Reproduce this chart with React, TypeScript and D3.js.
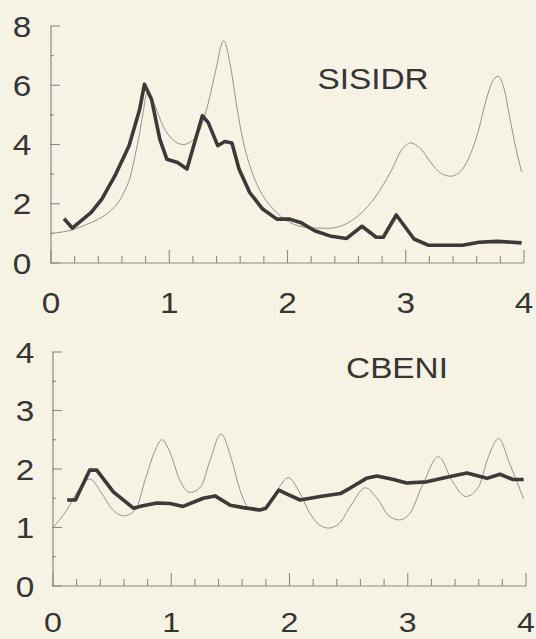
import React, { useEffect, useRef } from 'react';
import * as d3 from 'd3';

// values: [x, y]
const sisidrModel: [number, number][] = [
  [0, 1.0], [0.18, 1.12], [0.3, 1.3], [0.4, 1.48], [0.5, 1.75], [0.57, 2.05], [0.63, 2.5],
  [0.67, 2.9], [0.71, 3.6], [0.75, 4.4], [0.78, 5.1], [0.81, 5.72], [0.84, 5.65], [0.89, 5.2],
  [0.95, 4.6], [1.02, 4.2], [1.12, 4.0], [1.2, 4.15], [1.27, 4.6], [1.33, 5.4], [1.39, 6.45],
  [1.46, 7.5], [1.52, 6.6], [1.57, 5.3], [1.62, 4.2], [1.68, 3.3], [1.76, 2.5], [1.88, 1.82],
  [2.02, 1.37], [2.17, 1.2], [2.34, 1.17], [2.46, 1.26], [2.6, 1.6], [2.75, 2.27], [2.87, 3.06],
  [2.97, 3.84], [3.04, 4.05], [3.13, 3.84], [3.21, 3.4], [3.3, 3.02], [3.38, 2.93], [3.48, 3.17],
  [3.55, 3.7], [3.61, 4.4], [3.68, 5.5], [3.73, 6.1], [3.78, 6.3], [3.83, 5.9], [3.88, 4.9],
  [3.93, 3.9], [3.98, 3.08],
];

const sisidrData: [number, number][] = [
  [0.11, 1.5], [0.18, 1.18], [0.34, 1.71], [0.43, 2.16], [0.54, 2.94], [0.66, 3.96], [0.75, 5.19],
  [0.79, 6.03], [0.85, 5.53], [0.92, 4.18], [0.98, 3.5], [1.07, 3.39], [1.15, 3.17], [1.28, 4.97],
  [1.33, 4.74], [1.41, 3.96], [1.47, 4.1], [1.53, 4.05], [1.59, 3.17], [1.68, 2.38], [1.79, 1.82],
  [1.91, 1.48], [2.02, 1.48], [2.11, 1.37], [2.23, 1.09], [2.37, 0.9], [2.5, 0.83], [2.63, 1.24],
  [2.75, 0.87], [2.81, 0.87], [2.92, 1.62], [3.07, 0.81], [3.19, 0.6], [3.33, 0.6], [3.48, 0.6],
  [3.62, 0.7], [3.77, 0.73], [3.98, 0.68],
];

const cbeniModel: [number, number][] = [
  [0, 1.0], [0.12, 1.31], [0.2, 1.59], [0.31, 1.83], [0.41, 1.59], [0.49, 1.34], [0.6, 1.2],
  [0.7, 1.31], [0.78, 1.82], [0.86, 2.3], [0.92, 2.5], [0.99, 2.28], [1.07, 1.82], [1.16, 1.6],
  [1.25, 1.7], [1.33, 2.16], [1.42, 2.6], [1.51, 2.16], [1.58, 1.65], [1.65, 1.34], [1.72, 1.28],
  [1.82, 1.4], [1.9, 1.65], [1.99, 1.85], [2.08, 1.62], [2.17, 1.25], [2.25, 1.05], [2.33, 0.99],
  [2.42, 1.07], [2.52, 1.38], [2.64, 1.68], [2.74, 1.5], [2.84, 1.2], [2.93, 1.13], [3.02, 1.25],
  [3.12, 1.7], [3.26, 2.21], [3.38, 1.78], [3.49, 1.53], [3.6, 1.7], [3.68, 2.2], [3.77, 2.52],
  [3.86, 2.1], [3.98, 1.49],
];

const cbeniData: [number, number][] = [
  [0.12, 1.47], [0.19, 1.47], [0.31, 1.98], [0.37, 1.98], [0.51, 1.61], [0.68, 1.33], [0.76, 1.37],
  [0.88, 1.42], [0.99, 1.41], [1.1, 1.36], [1.27, 1.5], [1.37, 1.54], [1.5, 1.38], [1.61, 1.34],
  [1.75, 1.3], [1.8, 1.33], [1.91, 1.64], [1.98, 1.57], [2.09, 1.47], [2.26, 1.53], [2.43, 1.58],
  [2.51, 1.67], [2.65, 1.84], [2.74, 1.88], [2.88, 1.82], [2.99, 1.76], [3.16, 1.78], [3.33, 1.86],
  [3.5, 1.93], [3.67, 1.84], [3.78, 1.91], [3.89, 1.82], [3.98, 1.82],
];

const xTicks = [0, 1, 2, 3, 4];
const topYTicks = [0, 2, 4, 6, 8];
const bottomYTicks = [0, 1, 2, 3, 4];

const WIDTH = 536;
const HEIGHT = 639;
const BG = '#f6f3e5';
const AXIS = '#8a8a86';
const TEXT = '#353533';
const FONT = 'Liberation Sans, Arial, Helvetica, sans-serif';

function drawPanel(svg, opt) {
  const { x0, x1, yTop, yBottom, yMax, yMinorStep, yLabelX, xLabelY, xLabelSize, title, titleX, titleY, model, data } = opt;
  const x = d3.scaleLinear().domain([0, 4]).range([x0, x1]);
  const y = d3.scaleLinear().domain([0, yMax]).range([yBottom, yTop]);
  const g = svg.append('g');

  // axes
  g.append('line').attr('x1', x0).attr('x2', x0).attr('y1', yTop).attr('y2', yBottom)
    .attr('stroke', AXIS).attr('stroke-width', 1.2);
  g.append('line').attr('x1', x0).attr('x2', x1).attr('y1', yBottom).attr('y2', yBottom)
    .attr('stroke', AXIS).attr('stroke-width', 1.2);

  const xMinor = d3.range(0, 4.0001, 0.2);
  g.selectAll('.xt').data(xMinor).enter().append('line')
    .attr('x1', (d) => x(d)).attr('x2', (d) => x(d))
    .attr('y1', yBottom)
    .attr('y2', (d) => yBottom - (Math.abs(d - Math.round(d)) < 1e-6 ? 13 : 7))
    .attr('stroke', AXIS).attr('stroke-width', 1.1);

  const yMinor = d3.range(0, yMax + 0.0001, yMinorStep);
  g.selectAll('.yt').data(yMinor).enter().append('line')
    .attr('x1', x0 - 1)
    .attr('x2', (d) => x0 + (opt.yTicks.some((t) => Math.abs(t - d) < 1e-6) ? 9 : 3))
    .attr('y1', (d) => y(d)).attr('y2', (d) => y(d))
    .attr('stroke', AXIS).attr('stroke-width', 1.1);

  const label = (sel, tx, ty) => sel
    .attr('transform', `translate(${tx},${ty}) scale(1.15,1)`)
    .attr('text-anchor', 'middle')
    .attr('font-family', FONT)
    .attr('fill', TEXT);

  opt.yTicks.forEach((t) => {
    label(g.append('text'), yLabelX, y(t) + 10.5).attr('font-size', 29).text(t);
  });
  xTicks.forEach((t) => {
    label(g.append('text'), x(t), xLabelY).attr('font-size', xLabelSize).text(t);
  });
  label(g.append('text'), titleX, titleY).attr('font-size', 29).text(title);

  // curves
  const thin = d3.line().x((d) => x(d[0])).y((d) => y(d[1])).curve(d3.curveMonotoneX);
  const thick = d3.line().x((d) => x(d[0])).y((d) => y(d[1])).curve(d3.curveLinear);

  g.append('path').datum(model).attr('d', thin)
    .attr('fill', 'none').attr('stroke', '#939390').attr('stroke-width', 1);
  g.append('path').datum(data).attr('d', thick)
    .attr('fill', 'none').attr('stroke', '#3b3a38').attr('stroke-width', 3.6)
    .attr('stroke-linejoin', 'round').attr('stroke-linecap', 'butt');
}

export default function App() {
  const ref = useRef(null);

  useEffect(() => {
    document.body.style.margin = '0';
    const svg = d3.select(ref.current);
    svg.selectAll('*').remove();

    drawPanel(svg, {
      x0: 51, x1: 524, yTop: 26, yBottom: 263, yMax: 8, yMinorStep: 1, yTicks: topYTicks,
      yLabelX: 22, xLabelY: 312.5, xLabelSize: 29, title: 'SISIDR', titleX: 373, titleY: 89,
      model: sisidrModel, data: sisidrData,
    });
    drawPanel(svg, {
      x0: 53, x1: 526, yTop: 352, yBottom: 586, yMax: 4, yMinorStep: 0.5, yTicks: bottomYTicks,
      yLabelX: 25, xLabelY: 632, xLabelSize: 28, title: 'CBENI', titleX: 397, titleY: 378,
      model: cbeniModel, data: cbeniData,
    });
  }, []);

  return (
    <div style={{ position: 'absolute', left: 0, top: 0, width: WIDTH, height: HEIGHT, background: BG }}>
      <svg ref={ref} width={WIDTH} height={HEIGHT} style={{ display: 'block' }} />
    </div>
  );
}
